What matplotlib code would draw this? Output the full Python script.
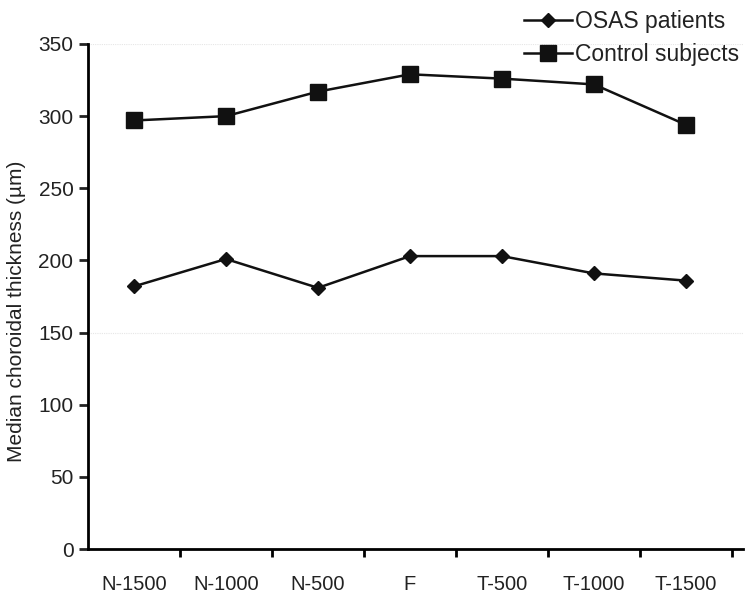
import numpy as np
import matplotlib.pyplot as plt

plt.rcParams['font.family'] = ['Liberation Sans', 'DejaVu Sans']

categories = ["N-1500", "N-1000", "N-500", "F", "T-500", "T-1000", "T-1500"]
osas = [182, 201, 181, 203, 203, 191, 186]
control = [297, 300, 317, 329, 326, 322, 294]

fig = plt.figure(figsize=(7.5, 5.97), dpi=100)
ax = fig.add_axes([0.1173, 0.0804, 0.8734, 0.8459])

x = np.arange(len(categories))

# faint gridlines
for g in [150, 350]:
    ax.axhline(g, color="#e6e6e6", lw=0.8, ls=(0, (1, 1)), zorder=0)

ax.plot(x, osas, color="#111111", lw=1.8, marker="D", ms=7.5, label="OSAS patients")
ax.plot(x, control, color="#111111", lw=1.8, marker="s", ms=11.5, label="Control subjects")

ax.set_ylim(0, 350)
ax.set_xlim(-0.5, 6.62)
ax.set_yticks(np.arange(0, 351, 50))
ax.set_xticks(x)
ax.set_xticklabels(categories)
ax.set_xticks(x + 0.5, minor=True)
ax.tick_params(axis="x", which="major", length=0, pad=19, labelsize=14.5, colors="#222222")
ax.tick_params(axis="x", which="minor", length=6, width=2, direction="out")
ax.tick_params(axis="y", length=6.5, width=2, pad=4, labelsize=15, colors="#222222")

for s in ["top", "right"]:
    ax.spines[s].set_visible(False)
for s in ["left", "bottom"]:
    ax.spines[s].set_linewidth(2)

ax.set_ylabel("Median choroidal thickness (µm)", fontsize=15, color="#222222")
ax.yaxis.set_label_coords(-0.095, 0.47)

fig.legend(loc="upper right", bbox_to_anchor=(0.986, 0.983), frameon=False,
           borderpad=0, borderaxespad=0,
           fontsize=16.5, handlelength=2.1, handletextpad=0.15, labelspacing=0.45,
           labelcolor="#222222")

fig.savefig("out.png", dpi=100)
